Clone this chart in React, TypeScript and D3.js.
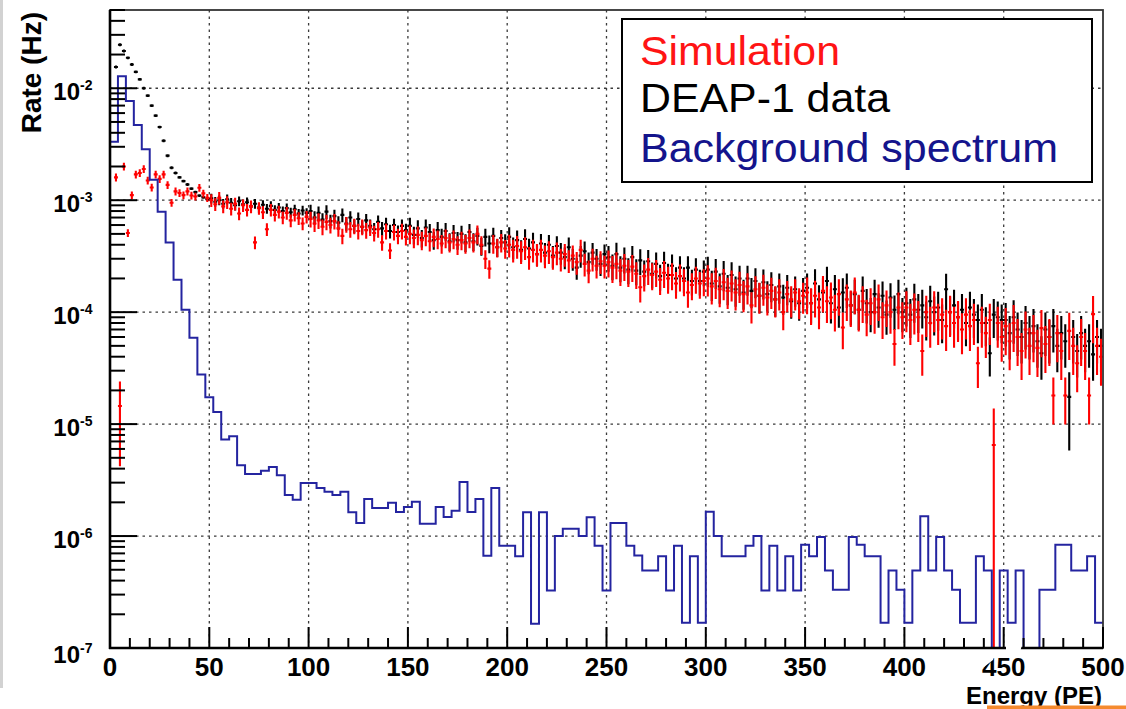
import React from "react";
import * as d3 from "d3";

// ---- data ----
// DEAP-1 data, rate per 2-PE bin (Hz), bins start at 0 PE
const dataRate = [
  0, 1.55e-2, 2.45e-2, 2.15e-2, 1.87e-2, 1.63e-2, 1.4e-2, 1.2e-2, 1.0e-2, 8.6e-3, 7.0e-3, 5.7e-3, 4.5e-3, 3.4e-3, 2.5e-3, 1.95e-3, 1.75e-3, 1.6e-3, 1.48e-3, 1.38e-3, 1.27e-3, 1.18e-3, 1.1e-3, 1.06e-3, 1.02e-3,
  1.04e-3, 9.7e-4, 1.0e-3, 9.3e-4, 1.02e-3, 9.5e-4, 9.0e-4, 9.8e-4, 9.2e-4, 9.6e-4, 8.8e-4, 9.3e-4, 8.6e-4, 9.1e-4, 8.4e-4, 8.9e-4, 8.2e-4, 8.6e-4, 8.0e-4, 8.5e-4, 7.8e-4, 8.3e-4, 7.6e-4, 8.1e-4, 7.7e-4,
  8.0e-4, 7.0e-4, 7.7e-4, 6.7e-4, 7.9e-4, 6.5e-4, 7.2e-4, 6.3e-4, 7.4e-4, 6.2e-4, 7.0e-4, 5.9e-4, 6.8e-4, 5.8e-4, 6.6e-4, 5.9e-4, 5.5e-4, 6.4e-4, 5.6e-4, 6.1e-4, 5.3e-4, 6.0e-4, 5.2e-4, 5.9e-4, 5.4e-4,
  5.9e-4, 4.9e-4, 5.6e-4, 4.6e-4, 5.7e-4, 5.2e-4, 4.4e-4, 5.4e-4, 4.7e-4, 5.3e-4, 4.3e-4, 5.1e-4, 4.4e-4, 5.0e-4, 4.2e-4, 5.2e-4, 4.3e-4, 4.8e-4, 3.9e-4, 4.7e-4, 4.1e-4, 4.8e-4, 3.8e-4, 4.6e-4, 4.2e-4,
  4.7e-4, 3.8e-4, 4.4e-4, 3.6e-4, 4.5e-4, 3.7e-4, 4.2e-4, 3.3e-4, 4.1e-4, 3.4e-4, 4.0e-4, 3.2e-4, 3.9e-4, 3.4e-4, 3.1e-4, 3.8e-4, 3.0e-4, 2.5e-4, 3.2e-4, 3.5e-4, 2.8e-4, 3.4e-4, 3.0e-4, 2.7e-4, 3.3e-4,
  3.1e-4, 2.6e-4, 3.3e-4, 2.5e-4, 3.0e-4, 2.4e-4, 3.1e-4, 2.35e-4, 2.9e-4, 2.3e-4, 2.85e-4, 2.2e-4, 2.7e-4, 2.1e-4, 2.75e-4, 2.15e-4, 2.6e-4, 2.0e-4, 2.5e-4, 2.0e-4, 2.5e-4, 1.9e-4, 2.4e-4, 1.9e-4, 2.3e-4,
  2.4e-4, 1.8e-4, 2.3e-4, 1.7e-4, 2.2e-4, 1.65e-4, 2.15e-4, 1.6e-4, 2.0e-4, 1.5e-4, 2.0e-4, 1.55e-4, 1.9e-4, 1.4e-4, 1.85e-4, 1.45e-4, 1.75e-4, 1.3e-4, 1.7e-4, 1.35e-4, 1.65e-4, 1.25e-4, 1.6e-4, 1.2e-4, 1.55e-4,
  1.65e-4, 1.2e-4, 1.8e-4, 1.3e-4, 1.5e-4, 1.9e-4, 1.2e-4, 1.6e-4, 1.1e-4, 1.5e-4, 1.65e-4, 1.15e-4, 1.45e-4, 1.05e-4, 1.55e-4, 1.2e-4, 1.0e-4, 1.45e-4, 1.1e-4, 1.4e-4, 9.5e-5, 1.35e-4, 1.05e-4, 1.45e-4, 1.0e-4,
  1.2e-4, 9.5e-5, 1.3e-4, 1.05e-4, 1.15e-4, 9.0e-5, 1.25e-4, 1.0e-4, 1.1e-4, 8.5e-5, 1.6e-4, 1.0e-4, 1.15e-4, 9.0e-5, 1.05e-4, 8.0e-5, 1.1e-4, 9.5e-5, 8.5e-5, 1.05e-4, 8.0e-5, 4.3e-5, 9.5e-5, 9.0e-5, 8.5e-5,
  8.5e-5, 6.5e-5, 9.0e-5, 7.0e-5, 6.0e-5, 8.0e-5, 6.5e-5, 7.5e-5, 5.5e-5, 4.3e-5, 7.0e-5, 6.0e-5, 7.5e-5, 5.0e-5, 6.5e-5, 5.5e-5, 1.75e-5, 6.0e-5, 4.5e-5, 6.5e-5, 5.0e-5, 5.5e-5, 4.2e-5, 6.0e-5, 5.0e-5,
];

// Simulation, rate per 2-PE bin (Hz)
const simRate = [
  0, 1.6e-3, 1.45e-5, 2.0e-3, 5.1e-4, 1.11e-3, 1.7e-3, 1.75e-3, 1.9e-3, 1.5e-3, 1.3e-3, 1.7e-3, 1.55e-3, 1.7e-3, 1.37e-3, 9.5e-4, 1.2e-3, 1.16e-3, 1.11e-3, 1.2e-3, 1.1e-3, 1.08e-3, 1.29e-3, 1.15e-3, 1.05e-3,
  1.0e-3, 9.2e-4, 1.05e-3, 8.8e-4, 9.6e-4, 8.4e-4, 9.3e-4, 7.6e-4, 9.0e-4, 8.2e-4, 8.8e-4, 4.2e-4, 8.5e-4, 7.8e-4, 5.5e-4, 8.2e-4, 7.4e-4, 7.9e-4, 7.0e-4, 7.7e-4, 6.6e-4, 7.4e-4, 6.9e-4, 6.2e-4, 7.1e-4,
  6.8e-4, 6.2e-4, 6.6e-4, 5.8e-4, 6.4e-4, 6.0e-4, 6.5e-4, 5.6e-4, 4.8e-4, 6.1e-4, 5.5e-4, 5.9e-4, 5.3e-4, 5.8e-4, 5.4e-4, 5.7e-4, 5.1e-4, 5.5e-4, 4.2e-4, 5.3e-4, 3.55e-4, 5.2e-4, 4.8e-4, 5.3e-4, 4.7e-4,
  5.0e-4, 4.6e-4, 4.9e-4, 4.4e-4, 4.8e-4, 4.3e-4, 4.7e-4, 4.5e-4, 4.1e-4, 4.6e-4, 4.2e-4, 4.5e-4, 4.0e-4, 4.4e-4, 4.1e-4, 4.6e-4, 4.2e-4, 5.0e-4, 4.0e-4, 3.0e-4, 2.45e-4, 4.1e-4, 3.8e-4, 4.2e-4, 3.7e-4,
  4.0e-4, 3.6e-4, 3.9e-4, 3.5e-4, 3.8e-4, 3.1e-4, 3.6e-4, 3.3e-4, 3.6e-4, 3.2e-4, 3.5e-4, 3.1e-4, 3.4e-4, 3.0e-4, 3.3e-4, 2.9e-4, 3.2e-4, 2.8e-4, 3.6e-4, 2.7e-4, 2.35e-4, 3.0e-4, 2.6e-4, 2.85e-4, 2.6e-4,
  2.8e-4, 2.5e-4, 2.7e-4, 2.35e-4, 2.6e-4, 2.3e-4, 2.55e-4, 2.2e-4, 1.67e-4, 2.1e-4, 2.4e-4, 2.15e-4, 2.3e-4, 1.95e-4, 2.25e-4, 2.0e-4, 2.15e-4, 1.8e-4, 2.1e-4, 1.9e-4, 1.5e-4, 1.75e-4, 2.0e-4, 1.8e-4, 1.9e-4,
  2.0e-4, 1.7e-4, 1.9e-4, 1.6e-4, 1.85e-4, 1.55e-4, 1.8e-4, 1.5e-4, 1.75e-4, 1.45e-4, 1.7e-4, 1.15e-4, 1.6e-4, 1.4e-4, 1.65e-4, 1.35e-4, 1.55e-4, 1.3e-4, 1.5e-4, 1.0e-4, 1.45e-4, 1.3e-4, 1.5e-4, 1.25e-4, 1.4e-4,
  1.5e-4, 1.2e-4, 1.4e-4, 1.1e-4, 1.55e-4, 1.25e-4, 1.35e-4, 1.05e-4, 1.45e-4, 7.3e-5, 1.3e-4, 1.15e-4, 1.5e-4, 1.05e-4, 1.25e-4, 9.5e-5, 1.2e-4, 1.0e-4, 1.3e-4, 9.0e-5, 1.15e-4, 1.0e-4, 5.2e-5, 1.1e-4, 9.0e-5,
  1.1e-4, 8.5e-5, 1.05e-4, 9.0e-5, 4.5e-5, 1.0e-4, 8.0e-5, 1.1e-4, 8.5e-5, 9.5e-5, 7.5e-5, 1.0e-4, 8.0e-5, 9.0e-5, 7.0e-5, 9.5e-5, 7.5e-5, 8.5e-5, 3.5e-5, 8.0e-5, 6.5e-5, 8.5e-5, 6.5e-6, 8.0e-5, 6.0e-5,
  7.5e-5, 5.5e-5, 8.0e-5, 6.0e-5, 4.5e-5, 7.0e-5, 5.0e-5, 6.5e-5, 4.8e-5, 7.2e-5, 5.2e-5, 6.0e-5, 1.8e-5, 6.5e-5, 4.5e-5, 1.8e-5, 6.8e-5, 5.0e-5, 3.5e-5, 6.0e-5, 4.5e-5, 1.8e-5, 9.6e-5, 5.0e-5, 4.0e-5,
];

// Typical half-height of the error bars, as a fraction of the rate, per 50-PE segment
const dataRelErr = [0.03, 0.1, 0.14, 0.18, 0.22, 0.26, 0.3, 0.34, 0.38, 0.42];
const simRelErr = [0.08, 0.13, 0.16, 0.19, 0.23, 0.27, 0.31, 0.36, 0.4, 0.45];

// Bins whose error bars are read individually (lower / upper ends, 0 = down to the axis)
const dataWideBin = [241];
const dataWideLo = [5.8e-6];
const dataWideHi = [2.9e-5];
const simWideBin = [2, 222];
const simWideLo = [4.2e-6, 0];
const simWideHi = [2.4e-5, 1.38e-5];

// Background spectrum, rate per 4-PE bin (Hz), 0 = empty bin
const bgRate = [
  3.33e-3, 1.28e-2, 7.7e-3, 4.69e-3, 2.85e-3, 1.52e-3, 7.9e-4, 4.19e-4, 1.95e-4, 1.05e-4,
  5.9e-5, 2.78e-5, 1.74e-5, 1.28e-5, 7.3e-6, 7.8e-6, 4.3e-6, 3.58e-6, 3.58e-6, 3.83e-6,
  4.13e-6, 3.5e-6, 2.33e-6, 2.11e-6, 2.98e-6, 2.98e-6, 2.69e-6, 2.49e-6, 2.33e-6, 2.49e-6,
  1.63e-6, 1.31e-6, 2.14e-6, 1.78e-6, 1.78e-6, 1.98e-6, 1.64e-6, 1.82e-6, 2.02e-6, 1.29e-6,
  1.29e-6, 1.82e-6, 1.48e-6, 1.68e-6, 3.04e-6, 1.64e-6, 2.14e-6, 6.67e-7, 2.69e-6, 8.2e-7,
  8.2e-7, 6.6e-7, 1.63e-6, 1.65e-7, 1.63e-6, 3.27e-7, 1.0e-6, 1.16e-6, 1.16e-6, 1.0e-6,
  1.47e-6, 8.2e-7, 3.27e-7, 1.31e-6, 1.31e-6, 8.2e-7, 6.7e-7, 4.93e-7, 4.93e-7, 6.6e-7,
  3.27e-7, 8.2e-7, 1.68e-7, 6.6e-7, 1.68e-7, 1.65e-6, 1.0e-6, 6.6e-7, 6.6e-7, 6.6e-7,
  8.2e-7, 1.0e-6, 3.27e-7, 8.2e-7, 3.27e-7, 6.6e-7, 3.27e-7, 8.35e-7, 6.6e-7, 9.8e-7,
  4.93e-7, 3.32e-7, 3.32e-7, 9.8e-7, 8.35e-7, 6.6e-7, 6.6e-7, 1.68e-7, 4.93e-7, 3.32e-7,
  1.68e-7, 4.93e-7, 1.5e-6, 4.93e-7, 9.8e-7, 4.93e-7, 3.32e-7, 1.68e-7, 1.68e-7, 6.6e-7,
  4.93e-7, 0, 4.93e-7, 1.68e-7, 4.93e-7, 0, 0, 3.32e-7, 3.32e-7, 8.35e-7,
  8.35e-7, 4.93e-7, 4.93e-7, 6.6e-7, 1.68e-7,
];

const xTicksMajor = [0, 50, 100, 150, 200, 250, 300, 350, 400, 450, 500];
const yDecades = [-7, -6, -5, -4, -3, -2];
const legendLabels = ["Simulation", "DEAP-1 data", "Background spectrum"];
const xTitle = "Energy (PE)";
const yTitle = "Rate (Hz)";

// ---- layout ----
const W = 1126;
const H = 709;
const PL = 110, PR = 1103, PT = 10, PB = 648;
const FONT = "'Liberation Sans', Arial, Helvetica, sans-serif";

const x = d3.scaleLinear().domain([0, 500]).range([PL, PR]);
const y = d3.scaleLog().domain([1e-7, 0.05]).range([PB, PT]).clamp(true);

function errorBarPath(
  rates: number[],
  binPE: number,
  relErr: number[],
  wideBin: number[],
  wideLo: number[],
  wideHi: number[]
): string {
  let d = "";
  rates.forEach((v, i) => {
    if (!(v > 0)) return;
    const x0 = x(i * binPE);
    const x1 = x((i + 1) * binPE);
    const xc = (x0 + x1) / 2;
    let lo: number, hi: number;
    const w = wideBin.indexOf(i);
    if (w >= 0) {
      lo = wideLo[w];
      hi = wideHi[w];
    } else {
      const r = relErr[Math.min(relErr.length - 1, Math.floor((i * binPE) / 50))];
      lo = v * (1 - r);
      hi = v * (1 + r);
    }
    const yv = y(v);
    const yl = lo > 0 ? y(lo) : PB;
    const yh = y(hi);
    d += `M${x0.toFixed(2)},${yv.toFixed(2)}H${x1.toFixed(2)}M${xc.toFixed(2)},${yl.toFixed(2)}V${yh.toFixed(2)}`;
  });
  return d;
}

export default function App() {
  const bgPts: [number, number][] = bgRate.map((v, i) => [i * 4, v]);
  bgPts.push([500, bgRate[bgRate.length - 1]]);
  const bgLine = d3
    .line<[number, number]>()
    .x((d) => x(d[0]))
    .y((d) => (d[1] > 0 ? y(d[1]) : PB))
    .curve(d3.curveStepAfter)(bgPts) as string;

  const dataPath = errorBarPath(dataRate, 2, dataRelErr, dataWideBin, dataWideLo, dataWideHi);
  const simPath = errorBarPath(simRate, 2, simRelErr, simWideBin, simWideLo, simWideHi);

  const xMinor = d3.range(0, 501, 10).filter((v) => v % 50 !== 0);
  const yMinor: number[] = [];
  yDecades.forEach((dec) => {
    for (let m = 2; m <= 9; m++) {
      const v = m * Math.pow(10, dec);
      if (v <= 0.05) yMinor.push(v);
    }
  });

  return (
    <svg
      width={W}
      height={H}
      viewBox={`0 0 ${W} ${H}`}
      style={{ position: "absolute", left: 0, top: 0, background: "#fff", display: "block" }}
      fontFamily={FONT}
    >
      <defs>
        <clipPath id="plotClip">
          <rect x={PL} y={PT} width={PR - PL} height={PB - PT} />
        </clipPath>
      </defs>
      <rect x={0} y={0} width={W} height={H} fill="#fff" />
      {/* left slide edge */}
      <rect x={0} y={0} width={3} height={688} fill="#d2d2d2" />

      {/* grid */}
      <g stroke="#3a3a3a" strokeWidth={1.3} strokeDasharray="2.5 4" fill="none">
        {xTicksMajor.filter((v) => v > 0 && v < 500).map((v) => (
          <line key={"gx" + v} x1={x(v)} x2={x(v)} y1={PT} y2={PB} />
        ))}
        {yDecades.filter((d) => d > -7).map((d) => (
          <line key={"gy" + d} x1={PL} x2={PR} y1={y(Math.pow(10, d))} y2={y(Math.pow(10, d))} />
        ))}
      </g>

      {/* data series */}
      <g clipPath="url(#plotClip)" fill="none">
        <path d={dataPath} stroke="#000" strokeWidth={2.1} />
        <path d={simPath} stroke="#ff0000" strokeWidth={2.1} />
        <path d={bgLine} stroke="#2424a0" strokeWidth={2} />
      </g>

      {/* frame */}
      <rect x={PL} y={PT} width={PR - PL} height={PB - PT} fill="none" stroke="#333" strokeWidth={1.8} />
      <line x1={PL} x2={PL} y1={PT} y2={PB + 1} stroke="#000" strokeWidth={2.6} />
      <line x1={PL - 1} x2={PR} y1={PB} y2={PB} stroke="#000" strokeWidth={2.4} />

      {/* ticks */}
      <g stroke="#000" strokeWidth={2}>
        {xTicksMajor.map((v) => (
          <line key={"tx" + v} x1={x(v)} x2={x(v)} y1={PB} y2={PB - 21} />
        ))}
        {xMinor.map((v) => (
          <line key={"tm" + v} x1={x(v)} x2={x(v)} y1={PB} y2={PB - 10} />
        ))}
        {yDecades.map((d) => (
          <line key={"ty" + d} x1={PL} x2={PL + 27} y1={y(Math.pow(10, d))} y2={y(Math.pow(10, d))} />
        ))}
        {yMinor.map((v, i) => (
          <line key={"tym" + i} x1={PL} x2={PL + 15} y1={y(v)} y2={y(v)} />
        ))}
      </g>

      {/* x tick labels */}
      <g fontSize={26} fontWeight="bold" textAnchor="middle" fill="#000">
        {xTicksMajor.map((v) => (
          <text key={"lx" + v} x={x(v)} y={676}>
            {v}
          </text>
        ))}
      </g>
      {/* white blemish over the 450 label */}
      <path d="M1006,645 L1022,645 L1020,652 L1006,652 Z M984,652 L996,652 L993,660 L984,667 Z" fill="#fff" />

      {/* y tick labels */}
      <g fontWeight="bold" fill="#000">
        {yDecades.map((d) => {
          const yy = y(Math.pow(10, d));
          const off = d === -7 ? 15 : 12;
          return (
            <g key={"ly" + d}>
              <text x={80} y={yy + off} fontSize={24} textAnchor="end">
                10
              </text>
              <text x={80} y={yy + off - 10} fontSize={14} textAnchor="start">
                {`-${Math.abs(d)}`}
              </text>
            </g>
          );
        })}
      </g>

      {/* axis titles */}
      <text x={1102} y={704} fontSize={24} fontWeight="bold" textAnchor="end" fill="#000">
        {xTitle}
      </text>
      <text transform="translate(41,12) rotate(-90)" fontSize={28} fontWeight="bold" textAnchor="end" fill="#000">
        {yTitle}
      </text>

      {/* legend */}
      <rect x={622} y={19} width={470} height={163} fill="#fff" stroke="#000" strokeWidth={2} />
      <text x={640} y={65} fontSize={40} fill="#ff1414" textLength={200} lengthAdjust="spacingAndGlyphs">
        {legendLabels[0]}
      </text>
      <text x={640} y={112} fontSize={40} fill="#000" textLength={250} lengthAdjust="spacingAndGlyphs">
        {legendLabels[1]}
      </text>
      <text x={640} y={162} fontSize={40} fill="#14148c" textLength={418} lengthAdjust="spacingAndGlyphs">
        {legendLabels[2]}
      </text>

      {/* orange slide accent */}
      <rect x={987} y={705.5} width={139} height={3.5} fill="#f58a2e" />
    </svg>
  );
}
